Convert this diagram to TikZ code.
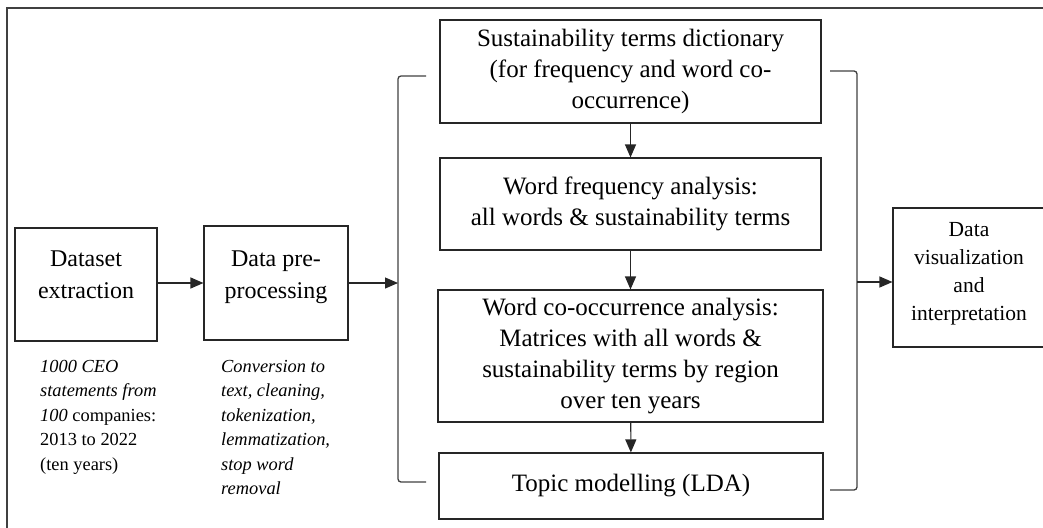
\documentclass[tikz,border=0pt]{standalone}
\usepackage{fontspec}
\setmainfont{Liberation Serif}
\usetikzlibrary{arrows.meta}

\begin{document}
\begin{tikzpicture}[x=1pt,y=1pt,yscale=-1,
  box/.style={draw=black!85,line width=1.1pt,align=center,inner sep=0pt},
  note/.style={anchor=north west,align=left,inner sep=0pt,font=\fontsize{18.4}{24.5}\selectfont\itshape},
  arr/.style={-{Triangle[length=13pt,width=11pt]},line width=1.1pt,draw=black!85},
  brace/.style={draw=black!75,line width=1.3pt,rounded corners=3pt}]
\useasboundingbox (0,0) rectangle (1043,527);

%Frame
\draw [black!75,line width=2pt] (6.5,540) -- (6.5,8.5) -- (1060,8.5);

%Left part
\node [box,minimum width=142,minimum height=113,text depth=20pt,font=\fontsize{24}{32}\selectfont] (ds) at (86,284.5) {Dataset\\extraction};
\node [box,minimum width=144,minimum height=114,text depth=17pt,font=\fontsize{24}{32}\selectfont] (pre) at (276,283) {Data pre-\\processing};

% Notes
\node [note] (dsnote) at (40,360) {1000 CEO\\statements from\\100 \upshape companies:\\\upshape 2013 to 2022\\\upshape (ten years)};
\node [note] (prenote) at (221,360) {Conversion to\\text, cleaning,\\tokenization,\\lemmatization,\\stop word\\removal};

%Analysis boxes
\node [box,minimum width=381,minimum height=103,font=\fontsize{25}{31}\selectfont] (dict) at (630.5,71.5) {Sustainability terms dictionary\\(for frequency and word co-\\occurrence)};
\node [box,minimum width=381,minimum height=92,font=\fontsize{25}{31}\selectfont] (freq) at (630.5,204) {Word frequency analysis:\\all words \& sustainability terms};
\node [box,minimum width=385,minimum height=132,font=\fontsize{25}{31}\selectfont] (cooc) at (630.5,356) {Word co-occurrence analysis:\\Matrices with all words \&\\sustainability terms by region\\over ten years};
\node [box,minimum width=384,minimum height=66,font=\fontsize{25}{31}\selectfont] (lda) at (631,486) {Topic modelling (LDA)};

%Output box
\node [box,minimum width=152,minimum height=139,text depth=13pt,font=\fontsize{21.5}{28}\selectfont] (viz) at (969,277.5) {Data\\visualization\\and\\interpretation};

%Brackets
\coordinate (lb) at (398,283);
\coordinate (rb) at (857,282);
\draw [brace] (426,76) -- (398,76) -- (398,482) -- (426,482);
\draw [brace] (830,71) -- (857,71) -- (857,490) -- (830,490);

%Arrows
\draw [arr] (ds.east |- pre.west) -- (pre.west);
\draw [arr] (pre.east) -- (lb);
\draw [arr] (dict) -- (freq);
\draw [arr] (freq) -- (cooc);
\draw [arr] (cooc) -- (lda);
\draw [arr] (rb) -- (rb -| viz.west);

\end{tikzpicture}
\end{document}
